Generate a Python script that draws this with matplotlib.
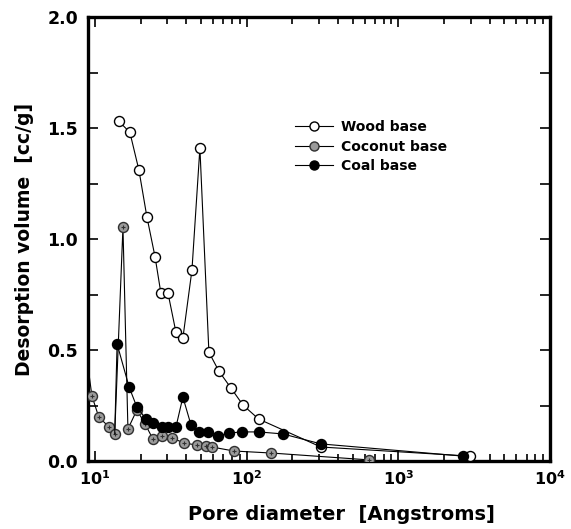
import matplotlib
matplotlib.use("Agg")
import matplotlib.pyplot as plt
from matplotlib.lines import Line2D
from matplotlib.ticker import FixedLocator, NullFormatter, LogLocator

plt.rcParams['font.family'] = ['DejaVu Sans']
plt.rcParams['font.weight'] = 'bold'
plt.rcParams['mathtext.fontset'] = 'custom'
plt.rcParams['mathtext.rm'] = 'DejaVu Sans:bold'
plt.rcParams['mathtext.bf'] = 'DejaVu Sans:bold'
plt.rcParams['mathtext.default'] = 'bf'

# Data (pore diameter in Angstroms, desorption volume in cc/g)
wood_x = [14.4, 17.0, 19.5, 22.0, 24.9, 27.2, 30.3, 34.2, 38.0, 43.6, 49.2, 56.4,
          65.6, 78.8, 94.6, 120, 309, 2950]
wood_y = [1.53, 1.48, 1.31, 1.10, 0.92, 0.757, 0.757, 0.58, 0.554, 0.86, 1.41, 0.49,
          0.405, 0.329, 0.252, 0.189, 0.063, 0.022]

coconut_x = [8.0, 9.55, 10.6, 12.4, 13.5, 15.3, 16.5, 18.9, 21.4, 24.1, 27.7, 32.2,
             38.6, 47.0, 53.9, 59.0, 82.4, 145, 640]
coconut_y = [0.69, 0.293, 0.198, 0.153, 0.122, 1.054, 0.144, 0.23, 0.167, 0.099, 0.113,
             0.104, 0.081, 0.072, 0.068, 0.063, 0.045, 0.036, 0.005]

coal_x = [13.5, 14.0, 16.8, 18.9, 21.7, 24.1, 27.7, 30.3, 34.2, 38.0, 43.0, 48.5, 55.6,
          64.7, 76.4, 93.1, 120, 173, 309, 2670]
coal_y = [0.122, 0.527, 0.333, 0.243, 0.189, 0.171, 0.153, 0.153, 0.153, 0.288, 0.162,
          0.131, 0.131, 0.113, 0.126, 0.131, 0.131, 0.122, 0.077, 0.022]

series_labels = ['Wood base', 'Coconut base', 'Coal base']
x_tick_vals = [10, 100, 1000, 10000]
x_tick_labels = ['$10^{1}$', '$10^{2}$', '$10^{3}$', '$10^{4}$']
y_tick_vals = [0.0, 0.5, 1.0, 1.5, 2.0]
y_tick_labels = ['0.0', '0.5', '1.0', '1.5', '2.0']

W, H = 571, 529
fig = plt.figure(figsize=(W / 100, H / 100), dpi=100)
ax = fig.add_axes([88 / W, 1 - 461 / H, (550 - 88) / W, (461 - 17) / H])

ms = 7.2
lw = 0.8
coco_face = '#9a9a9a'
coco_edge = '#303030'

ax.plot(wood_x, wood_y, '-', color='black', lw=lw, marker='o', ms=ms,
        mfc='white', mec='black', mew=1.0, zorder=3)
ax.plot(coconut_x, coconut_y, '-', color='black', lw=lw, marker='o', ms=ms,
        mfc=coco_face, mec=coco_edge, mew=1.0, zorder=4)
ax.plot(coconut_x, coconut_y, ls='none', marker='+', ms=3.2, mec='#303030',
        mew=0.8, zorder=4.1)
ax.plot(coal_x, coal_y, '-', color='black', lw=lw, marker='o', ms=ms,
        mfc='black', mec='black', mew=1.0, zorder=5,
        markevery=list(range(1, len(coal_x))))

ax.set_xscale('log')
ax.set_xlim(9, 10000)
ax.set_ylim(0, 2.0)

ax.xaxis.set_major_locator(FixedLocator(x_tick_vals))
ax.set_xticklabels(x_tick_labels)
ax.xaxis.set_minor_locator(LogLocator(base=10, subs=range(2, 10), numticks=20))
ax.xaxis.set_minor_formatter(NullFormatter())
ax.yaxis.set_major_locator(FixedLocator(y_tick_vals))
ax.set_yticklabels(y_tick_labels)
ax.yaxis.set_minor_locator(FixedLocator([0.25, 0.75, 1.25, 1.75]))

for s in ax.spines.values():
    s.set_linewidth(2.4)

ax.tick_params(which='both', direction='in', top=True, right=True, width=1.2)
ax.tick_params(axis='y', pad=7, labelsize=12.5)
ax.tick_params(axis='x', pad=6, labelsize=11.5)
ax.tick_params(which='major', length=7)
ax.tick_params(which='minor', length=5)
ax.tick_params(axis='y', which='minor', length=7)
for lab in ax.get_yticklabels() + ax.get_xticklabels():
    lab.set_fontweight('bold')

ax.set_xlabel('Pore diameter  [Angstroms]', fontsize=14, fontweight='bold')
ax.xaxis.set_label_coords((341 - 88) / 462, -(515 - 461) / 444)
ax.xaxis.label.set_va('center')
ax.set_ylabel('Desorption volume  [cc/g]', fontsize=13.5, fontweight='bold', labelpad=10)

handles = [
    Line2D([], [], color='black', lw=lw, marker='o', ms=6.5, mfc='white', mec='black'),
    Line2D([], [], color='black', lw=lw, marker='o', ms=6.5, mfc=coco_face, mec=coco_edge),
    Line2D([], [], color='black', lw=lw, marker='o', ms=6.5, mfc='black', mec='black'),
]
leg = ax.legend(handles, series_labels, loc='upper left',
                bbox_to_anchor=((295 - 88) / 462, (461 - 120) / 444),
                frameon=False, fontsize=10, handlelength=2.7, handletextpad=0.6,
                labelspacing=0.4, borderpad=0, borderaxespad=0)
for t in leg.get_texts():
    t.set_fontweight('bold')

fig.savefig('out.png', dpi=100)
